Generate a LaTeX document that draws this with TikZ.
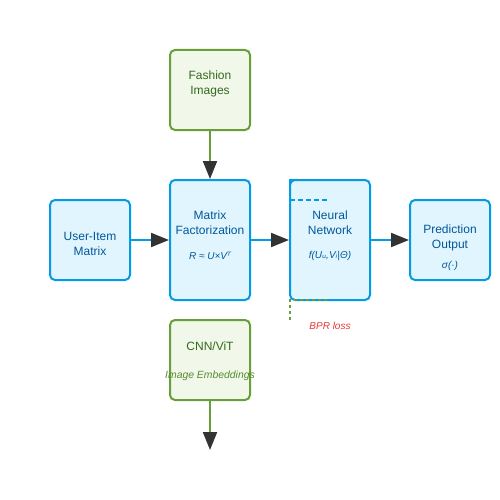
\documentclass[tikz,border=0pt]{standalone}
\usepackage{fontspec}
\setmainfont{Liberation Sans}
\newfontfamily\symf{DejaVu Sans}
\usetikzlibrary{arrows.meta}
\definecolor{bfill}{HTML}{E1F5FE}
\definecolor{bline}{HTML}{039BE5}
\definecolor{btext}{HTML}{01579B}
\definecolor{gfill}{HTML}{F1F8E9}
\definecolor{gline}{HTML}{689F38}
\definecolor{gtext}{HTML}{33691E}
\definecolor{gsub}{HTML}{558B2F}
\definecolor{rtext}{HTML}{E53935}
\definecolor{tip}{HTML}{333333}
\tikzset{
  bluebox/.style={draw=bline, fill=bfill, line width=2pt, rounded corners=5pt, minimum width=80pt, inner sep=0pt},
  greenbox/.style={draw=gline, fill=gfill, line width=2pt, rounded corners=5pt, minimum width=80pt, minimum height=80pt, inner sep=0pt},
  btitle/.style={text=btext, align=center, font=\fontsize{12}{15}\selectfont, inner sep=0pt},
  gtitle/.style={text=gtext, align=center, font=\fontsize{12}{15}\selectfont, inner sep=0pt},
  bform/.style={text=btext, font=\fontsize{10}{12}\selectfont\itshape, inner sep=0pt},
  flow/.style={line width=2pt, -{Triangle[length=18pt,width=14pt,fill=tip,color=tip]}},
}
\begin{document}
\begin{tikzpicture}[x=1pt,y=-1pt]
\useasboundingbox (0,0) rectangle (500,500);
% boxes
\node[greenbox] (fashion) at (210,90) {};
\node[bluebox, minimum height=80pt] (ui) at (90,240) {};
\node[bluebox, minimum height=120pt] (mf) at (210,240) {};
\node[bluebox, minimum height=120pt] (nn) at (330,240) {};
\node[bluebox, minimum height=80pt] (pred) at (450,240) {};
\node[greenbox] (cnn) at (210,360) {};
% texts
\node[gtitle] (fashiont) at (210,84) {Fashion\\Images};
\node[btitle] (uit) at (90,244) {User-Item\\Matrix};
\node[btitle] (mft) at (210,223) {Matrix\\Factorization};
\node[bform] (mff) at (210,256) {R ≈ U×V{\symf ᵀ}};
\node[btitle] (nnt) at (330,223) {Neural\\Network};
\node[bform] (nnf) at (330,256) {f(U{\symf ᵤ},V{\symf ᵢ}|Θ)};
\node[btitle] (predt) at (450,238) {Prediction\\Output};
\node[bform] (predf) at (450,266) {σ(·)};
\node[gtitle] (cnnt) at (210,346) {CNN/ViT};
\node[bform, text=gsub, font=\fontsize{10.4}{12}\selectfont\itshape] (cnnf) at (210,376) {Image Embeddings};
\node[bform, text=rtext] (bpr) at (330,326) {BPR loss};
% connectors
\coordinate (out) at (210,450);
\draw[flow, draw=gline] (fashion.south) -- (mf.north);
\draw[flow, draw=bline] (ui.east) -- (mf.west);
\draw[flow, draw=bline] (mf.east) -- (nn.west);
\draw[flow, draw=bline] (nn.east) -- (pred.west);
\draw[flow, draw=gline] (cnn.south) -- (out);
% auxiliary dashed marks
\coordinate (nnul) at (290,180);
\coordinate (nnl1) at (290,210);
\coordinate (nnt1) at (300,180);
\coordinate (bd1) at (290,200);
\coordinate (bd2) at (328,200);
\draw[bline, line width=2pt] (nnl1) -- (nnul) -- (nnt1);
\draw[bline, line width=2pt, dash pattern=on 5pt off 3pt] (bd1) -- (bd2);
\coordinate (gd0) at (290,320);
\coordinate (gd1) at (290,300);
\coordinate (gd2) at (328,300);
\draw[gline, line width=2pt, dash pattern=on 3pt off 3pt] (gd0) -- (gd1) -- (gd2);
\end{tikzpicture}
\end{document}
